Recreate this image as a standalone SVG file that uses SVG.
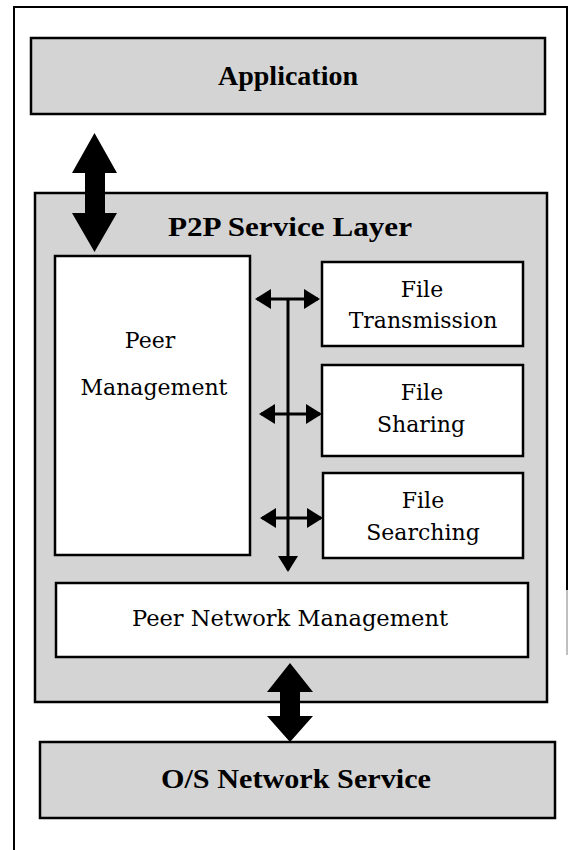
<svg xmlns="http://www.w3.org/2000/svg" width="570" height="850" viewBox="0 0 570 850">
  <defs>
    <style>
      .layer { fill: #d4d4d4; stroke: #000; stroke-width: 2.5; }
      .box { fill: #fff; stroke: #000; stroke-width: 2.5; }
      .bold { font-family: "Liberation Serif", "Times New Roman", serif; font-weight: bold; font-size: 28px; fill: #000; text-anchor: middle; }
      .reg { font-family: "DejaVu Serif", "Liberation Serif", serif; font-size: 22px; fill: #000; text-anchor: middle; }
      .thin { stroke: #000; stroke-width: 3; fill: none; }
      .big { fill: #000; }
    </style>
    <marker id="ah" viewBox="0 0 16 20" refX="14" refY="10" markerWidth="16" markerHeight="20" markerUnits="userSpaceOnUse" orient="auto-start-reverse">
      <path d="M0,0 L16,10 L0,20 z" fill="#000"/>
    </marker>
  </defs>

  <rect width="570" height="850" fill="#fff"/>

  <g id="frame" fill="none" stroke="#000" stroke-width="2">
    <polyline points="14,850 14,7 567,7 567,590"/>
    <line x1="567" y1="590" x2="567" y2="655" stroke="#aaa" stroke-width="1.5"/>
  </g>

  <g id="application">
    <rect class="layer" x="31" y="38" width="514" height="76"/>
    <text class="bold" x="288" y="85">Application</text>
  </g>

  <g id="p2p-service-layer">
    <rect class="layer" x="35" y="193" width="512" height="509"/>
    <text class="bold" x="290" y="236" textLength="244" lengthAdjust="spacingAndGlyphs">P2P Service Layer</text>
  </g>

  <g id="peer-management">
    <rect class="box" x="55" y="256" width="195" height="299"/>
    <text class="reg" x="150" y="348">Peer</text>
    <text class="reg" x="154" y="395">Management</text>
  </g>

  <g id="file-transmission">
    <rect class="box" x="322" y="262" width="201" height="84"/>
    <text class="reg" x="422" y="297">File</text>
    <text class="reg" x="423" y="328">Transmission</text>
  </g>

  <g id="file-sharing">
    <rect class="box" x="322" y="365" width="201" height="91"/>
    <text class="reg" x="422" y="400">File</text>
    <text class="reg" x="421" y="432">Sharing</text>
  </g>

  <g id="file-searching">
    <rect class="box" x="323" y="473" width="200" height="85"/>
    <text class="reg" x="423" y="508">File</text>
    <text class="reg" x="423" y="540">Searching</text>
  </g>

  <g id="peer-network-management">
    <rect class="box" x="56" y="583" width="472" height="74"/>
    <text class="reg" x="290" y="626" textLength="316" lengthAdjust="spacingAndGlyphs">Peer Network Management</text>
  </g>

  <g id="os-network-service">
    <rect class="layer" x="40" y="742" width="515" height="76"/>
    <text class="bold" x="296" y="788" textLength="270" lengthAdjust="spacingAndGlyphs">O/S Network Service</text>
  </g>

  <g id="connectors">
    <polygon class="big" points="94.5,133 117,173 105,173 105,213 117,213 94.5,252 72,213 85,213 85,173 72,173"/>
    <polygon class="big" points="290,663 313,692 300,692 300,716 313,716 290,742 267,716 280,716 280,692 267,692"/>
    <line class="thin" x1="288" y1="299" x2="288" y2="570" marker-end="url(#ah)"/>
    <line class="thin" x1="257" y1="299" x2="318" y2="299" marker-start="url(#ah)" marker-end="url(#ah)"/>
    <line class="thin" x1="261" y1="414" x2="320" y2="414" marker-start="url(#ah)" marker-end="url(#ah)"/>
    <line class="thin" x1="262" y1="518" x2="321" y2="518" marker-start="url(#ah)" marker-end="url(#ah)"/>
  </g>
</svg>
